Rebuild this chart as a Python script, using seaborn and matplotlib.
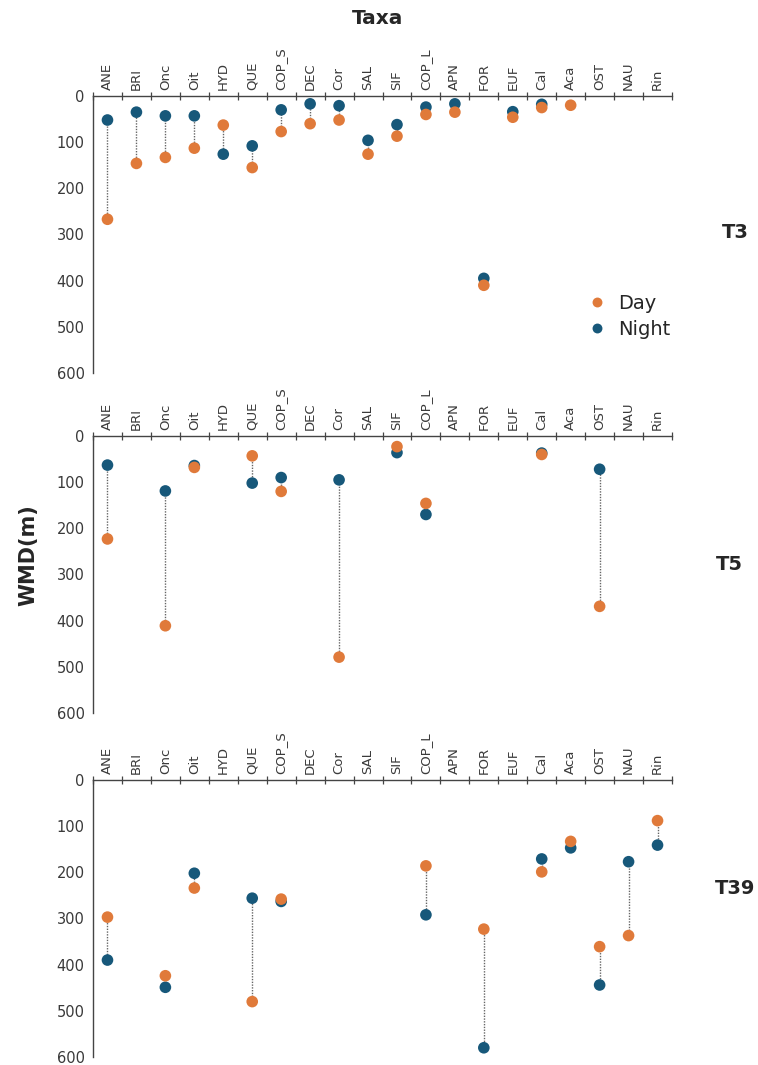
import numpy as np
import pandas as pd
import matplotlib
matplotlib.use("Agg")
import matplotlib.pyplot as plt
import seaborn as sns

taxa = ["ANE", "BRI", "Onc", "Oit", "HYD", "QUE", "COP_S", "DEC", "Cor", "SAL",
        "SIF", "COP_L", "APN", "FOR", "EUF", "Cal", "Aca", "OST", "NAU", "Rin"]
nan = np.nan
day_T3 = [267, 146, 133, 113, 63, 155, 77, 60, 52, 126, 87, 40, 35, 410, 46, 25, 20, nan, nan, nan]
night_T3 = [52, 35, 43, 43, 126, 108, 30, 17, 21, 96, 62, 24, 17, 395, 34, 18, nan, nan, nan, nan]
day_T5 = [223, nan, 411, 68, nan, 43, 120, nan, 479, nan, 23, 146, nan, nan, nan, 40, nan, 369, nan, nan]
night_T5 = [63, nan, 119, 64, nan, 102, 90, nan, 95, nan, 36, 170, nan, nan, nan, 37, nan, 72, nan, nan]
day_T39 = [297, nan, 424, 234, nan, 480, 258, nan, nan, nan, nan, 186, nan, 323, nan, 199, 133, 361, 337, 88]
night_T39 = [390, nan, 449, 202, nan, 256, 263, nan, nan, nan, nan, 292, nan, 580, nan, 171, 147, 444, 177, 141]
stations = ["T3", "T5", "T39"]
yticks = [0, 100, 200, 300, 400, 500, 600]

series = {"T3": (day_T3, night_T3), "T5": (day_T5, night_T5), "T39": (day_T39, night_T39)}
rows = []
for st in stations:
    d, n = series[st]
    for i, t in enumerate(taxa):
        rows.append({"station": st, "taxon": t, "pos": i, "period": "Night", "wmd": n[i]})
        rows.append({"station": st, "taxon": t, "pos": i, "period": "Day", "wmd": d[i]})
df = pd.DataFrame(rows)

sns.set_style("white")
plt.rcParams["font.family"] = ["DejaVu Sans"]

day_c = "#E07A3A"
night_c = "#17587A"
palette = {"Day": day_c, "Night": night_c}

fig = plt.figure(figsize=(7.58, 10.65), dpi=100)
W, H = 758, 1065
left, right = 93, 672
tops = [96, 436, 780]
ph = 277

for k, st in enumerate(stations):
    top = tops[k]
    ax = fig.add_axes([left / W, 1 - (top + ph) / H, (right - left) / W, ph / H])
    sub = df[df.station == st]
    # connecting dotted lines
    wide = sub.pivot(index="pos", columns="period", values="wmd").dropna()
    ax.vlines(wide.index, wide["Day"], wide["Night"], colors="#666666",
              linestyles=(0, (1, 1)), linewidth=1.0, zorder=1)
    sns.scatterplot(data=sub.dropna(), x="pos", y="wmd", hue="period",
                    hue_order=["Night", "Day"], palette=palette, s=70,
                    edgecolor="none", linewidth=0, ax=ax, zorder=3,
                    legend=(k == 0))
    ax.set_xlim(-0.5, 19.5)
    ax.set_ylim(600, 0)
    ax.set_yticks(yticks)
    ax.xaxis.tick_top()
    ax.set_xticks(np.arange(-0.5, 20, 1))
    ax.set_xticklabels([])
    ax.set_xticks(np.arange(20), minor=True)
    ax.set_xticklabels(taxa, minor=True, rotation=90, fontsize=9.5, color="#3a3a3a")
    ax.tick_params(axis="x", which="major", direction="inout", length=6, width=0.9,
                   color="#444444", top=True, bottom=False)
    ax.tick_params(axis="x", which="minor", length=0, pad=4, top=True, bottom=False,
                   labeltop=True, labelbottom=False)
    ax.tick_params(axis="y", which="major", direction="out", length=4, width=0.9,
                   color="#444444", labelsize=10.5, labelcolor="#3a3a3a", pad=2)
    ax.set_xlabel("")
    ax.set_ylabel("")
    for s in ["right", "bottom"]:
        ax.spines[s].set_visible(False)
    for s in ["left", "top"]:
        ax.spines[s].set_color("#444444")
        ax.spines[s].set_linewidth(1.0)
    if k == 0:
        h, l = ax.get_legend_handles_labels()
        order = [l.index("Day"), l.index("Night")]
        ax.legend([h[i] for i in order], [l[i] for i in order], loc="upper left",
                  bbox_to_anchor=(0.82, 0.32), frameon=False, fontsize=14,
                  handletextpad=0.1, borderpad=0, labelspacing=0.35, markerscale=0.85)

fig.text(378 / W, 1 - 18 / H, "Taxa", ha="center", va="center", fontsize=14.5, fontweight="bold")
fig.text(28 / W, 1 - 555 / H, "WMD(m)", ha="center", va="center", rotation=90,
         fontsize=15, fontweight="bold")
label_pos = [(735, 232), (729, 565), (735, 888)]
for st, (x, y) in zip(stations, label_pos):
    fig.text(x / W, 1 - y / H, st, ha="center", va="center", fontsize=14, fontweight="bold")

fig.savefig("out.png", dpi=100)
